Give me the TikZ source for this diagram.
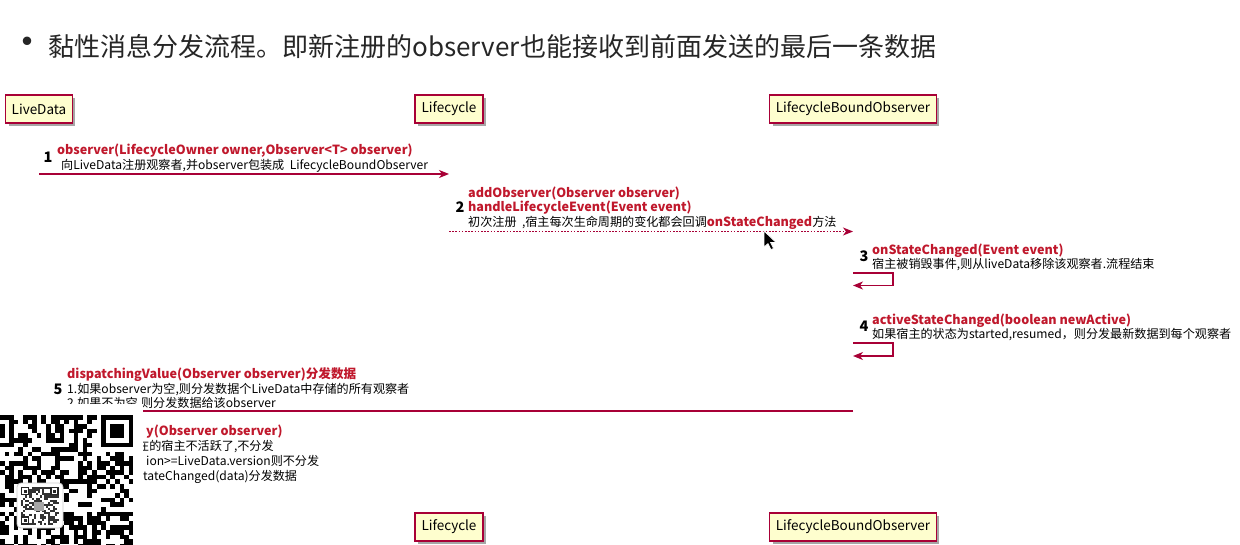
\documentclass[tikz,border=0pt]{standalone}
\usepackage{fontspec}
\setmainfont{Noto Sans CJK SC}
\usetikzlibrary{arrows.meta,backgrounds,shadows}
\definecolor{umlline}{RGB}{168,0,54}
\definecolor{umlfill}{RGB}{254,254,206}
\definecolor{msgred}{RGB}{192,24,44}
\definecolor{hl}{RGB}{179,212,252}
\tikzset{
 actor/.style={draw=umlline, line width=1.2pt, fill=umlfill, minimum height=28pt, inner xsep=6pt,
   font=\fontsize{13.5}{15}\selectfont, text=black,
   drop shadow={shadow xshift=3pt, shadow yshift=-3pt, opacity=0.35, fill=black}},
 lifeline/.style={draw=umlline, line width=1pt, dash pattern=on 5pt off 4pt},
 msg/.style={draw=umlline, line width=1.1pt, -{Stealth[length=10pt,width=8pt,inset=3pt]}},
 dmsg/.style={msg, dash pattern=on 1.6pt off 1.6pt},
 txt/.style={anchor=base west, inner sep=0pt, font=\fontsize{12.1}{14}\selectfont},
 redtxt/.style={txt, text=msgred, font=\fontsize{12.6}{14}\selectfont\bfseries},
 num/.style={anchor=base, inner sep=0pt, font=\fontsize{14.5}{16}\selectfont\bfseries},
 title/.style={anchor=base west, inner sep=0pt, font=\fontsize{26}{28}\selectfont, text=black!85},
}
\begin{document}
\begin{tikzpicture}[x=1pt,y=-1pt]
\useasboundingbox (0,0) rectangle (1240,545);
\fill[white] (0,0) rectangle (1240,545);

% title
\node[anchor=center, inner sep=0pt, font=\fontsize{40}{40}\selectfont, text=black!85] (bul) at (27,47) {•};
\node[title] (t1) at (48,56.5) {黏性消息分发流程。即};
\node[title] (t2) at (t1.base east) {新注册的observer};
\node[title] (t3) at (t2.base east) {也能接收到前面发送的最后一条数据};
\coordinate (hltop) at (0,25);
\coordinate (hlbot) at (0,68);
\begin{scope}[on background layer]
\fill[hl] (t2.west |- hltop) rectangle (t2.east |- hlbot);
\end{scope}

% participants
\node[actor, minimum width=66pt] (ldTop) at (39,109) {LiveData};
\node[actor, minimum width=68pt] (lcTop) at (449,109) {Lifecycle};
\node[actor, minimum width=165pt] (lboTop) at (853,109) {LifecycleBoundObserver};
\node[actor, minimum width=68pt] (lcBot) at (449,527) {Lifecycle};
\node[actor, minimum width=165pt] (lboBot) at (853,527) {LifecycleBoundObserver};
\coordinate (ldEnd) at (39,545);

\begin{scope}[on background layer]
\draw[lifeline] (ldTop.south) -- (ldEnd);
\draw[lifeline] (lcTop.south) -- (lcBot.north);
\draw[lifeline] (lboTop.south) -- (lboBot.north);
\end{scope}

% y levels
\coordinate (y1) at (0,174);
\coordinate (y2) at (0,231.5);
\coordinate (y3a) at (0,273);
\coordinate (y3b) at (0,285.5);
\coordinate (y4a) at (0,343);
\coordinate (y4b) at (0,356);
\coordinate (y5) at (0,411);

% message 1
\node[num] (n1) at (48,162.5) {1};
\node[redtxt] (m1a) at (57,155) {observer(LifecycleOwner owner,Observer<T> observer)};
\node[txt] (m1b) at (61,169.5) {向LiveData注册观察者,并observer包装成\ \ LifecycleBoundObserver};
\draw[msg] (ldTop |- y1) -- (lcTop |- y1);

% message 2
\node[num] (n2) at (460,213) {2};
\node[redtxt] (m2a) at (468,197.5) {addObserver(Observer observer)};
\node[redtxt] (m2b) at (468,212) {handleLifecycleEvent(Event event)};
\node[txt] (m2c) at (468,226.5) {初次注册\ \ ,宿主每次生命周期的变化都会回调\textcolor{msgred}{\fontsize{12.6}{14}\selectfont\bfseries onStateChanged}方法};
\draw[dmsg] (lcTop |- y2) -- (lboTop |- y2);

% cursor
\fill[black, draw=white, line width=0.6pt] (764,231) -- (764,247) -- (768,243.5) -- (771,249.5) -- (773.5,248.5) -- (770.5,242.5) -- (776,242.5) -- cycle;

% message 3
\node[num] (n3) at (864,262) {3};
\node[redtxt] (m3a) at (872,254.5) {onStateChanged(Event event)};
\node[txt] (m3b) at (872,268.5) {宿主被销毁事件,则从liveData移除该观察者.流程结束};
\draw[msg] (lboTop |- y3a) -- ++(40,0) -- ++(0,12.5) -- (lboTop |- y3b);

% message 4
\node[num] (n4) at (864,332) {4};
\node[redtxt] (m4a) at (872,324.5) {activeStateChanged(boolean newActive)};
\node[txt] (m4b) at (872,338.5) {如果宿主的状态为started,resumed，则分发最新数据到每个观察者};
\draw[msg] (lboTop |- y4a) -- ++(40,0) -- ++(0,13) -- (lboTop |- y4b);

% message 5
\node[num] (n5) at (58,394) {5};
\node[redtxt] (m5a) at (67,378.5) {dispatchingValue(Observer observer)分发数据};
\node[txt] (m5b) at (67,393.5) {1.如果observer为空,则分发数据个LiveData中存储的所有观察者};
\node[txt] (m5c) at (67,407.5) {2.如果不为空,则分发数据给该observer};
\draw[msg] (lboTop |- y5) -- (ldTop |- y5);

% message 6 (visible fragments)
\node[redtxt] (m6a) at (146,435.5) {y(Observer observer)};
\node[txt] (m6b) at (137,450.5) {在的宿主不活跃了,不分发};
\node[txt] (m6c) at (146,465) {ion>=LiveData.version则不分发};
\node[txt] (m6d) at (143,480) {tateChanged(data)分发数据};

% QR overlay
\begin{scope}
\clip (0,404) rectangle (1240,545);
\fill[white] (0,404) rectangle (143,545);
\pgfmathsetseed{11}
\foreach \c in {-4,...,28}{
  \foreach \r in {0,...,28}{
    \pgfmathtruncatemacro\bit{(rnd<0.5)&&!((\c>20)&&(\r<8))&&!((\c<3)&&(\r<8))}
    \ifnum\bit=1
      \fill[black] (\c*4.6, 415+\r*4.6) rectangle ++(4.6,4.6);
    \fi
  }
}
\fill[black] (101.2,415) rectangle (133.4,447.2);
\fill[white] (105.8,419.6) rectangle (128.8,442.6);
\fill[black] (110.4,424.2) rectangle (124.2,438);
\fill[black] (-18.4,415) rectangle (13.8,447.2);
\fill[white] (-13.8,419.6) rectangle (9.2,442.6);
\fill[black] (-9.2,424.2) rectangle (4.6,438);
\fill[white] (133.4,404) rectangle (143,545);
% logo
\fill[white, draw=black!20, line width=0.8pt, rounded corners=4pt] (17,483) rectangle (63,528);
\pgfmathsetseed{5}
\foreach \c in {0,...,17}{
  \foreach \r in {0,...,17}{
    \pgfmathtruncatemacro\bit{(rnd<0.5)&&!((\c<4)&&(\r<4))&&!((\c>13)&&(\r<4))&&!((\c<4)&&(\r>13))}
    \ifnum\bit=1
      \fill[black!80] (21+\c*2.1, 487+\r*2.1) rectangle ++(2.1,2.1);
    \fi
  }
}
\foreach \px/\py in {21/487, 50.4/487, 21/516.4}{
  \fill[black!85] (\px,\py) rectangle ++(8.4,8.4);
  \fill[white] (\px+1.4,\py+1.4) rectangle ++(5.6,5.6);
  \fill[black!85] (\px+2.8,\py+2.8) rectangle ++(2.8,2.8);
}
\fill[black!35] (34,502) rectangle (44,511);
\end{scope}
\end{tikzpicture}
\end{document}
